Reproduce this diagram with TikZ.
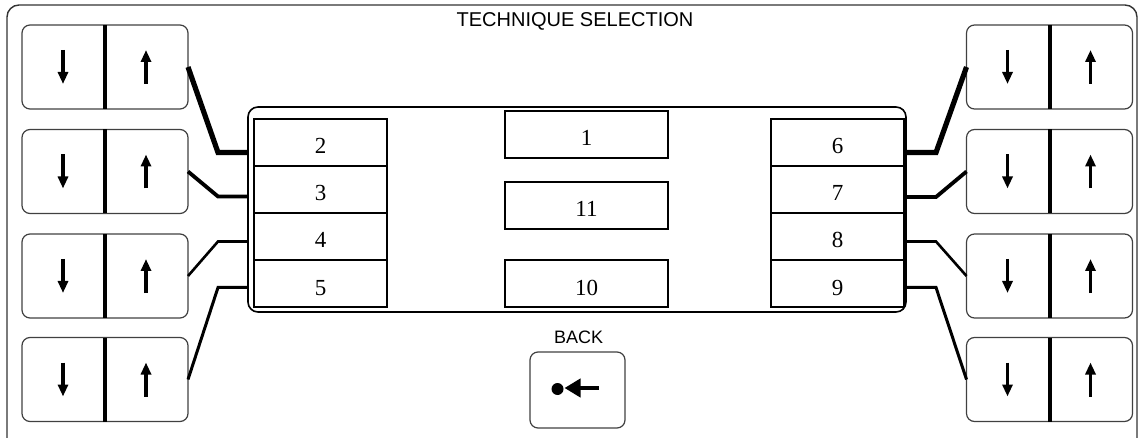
\documentclass[tikz,border=0pt]{standalone}
\usepackage{fontspec}
\setmainfont{Liberation Serif}
\setsansfont{Liberation Sans}
\usetikzlibrary{positioning, calc, arrows.meta}

\tikzstyle{Frame} = [draw=black!80, line width=0.7pt, rounded corners=6pt]
\tikzstyle{Panel} = [draw, line width=0.8pt, rounded corners=5pt,
    minimum width=329pt, minimum height=102.5pt, inner sep=0pt, outer sep=0pt]
\tikzstyle{Row} = [draw, line width=0.75pt, minimum width=66.5pt, minimum height=23.5pt,
    inner sep=0pt, outer sep=0pt, text height=11.5pt, text depth=0pt,
    font=\fontsize{11.5}{12}\selectfont]
\tikzstyle{Choice} = [Row, minimum width=81.5pt]
\tikzstyle{Key} = [black, line width=1.6pt, -{Triangle[width=5pt, length=6pt]}]
\tikzstyle{Rocker} = [draw=black!75, line width=0.6pt, rounded corners=4pt,
    minimum width=83pt, minimum height=42pt, inner sep=0pt, outer sep=0pt]
\tikzstyle{Link} = [line join=miter]
\tikzstyle{Caption} = [font=\sffamily\fontsize{9}{10}\selectfont, inner sep=0pt]

\begin{document}
\begin{tikzpicture}[x=0.5pt, y=-0.5pt]
    \useasboundingbox (0,0) rectangle (1140,438);
    \clip (0,0) rectangle (1140,438);
    \draw[Frame] (7,5) rectangle (1137,470);
    \node[Caption, font=\sffamily\fontsize{10}{11}\selectfont] (title) at (575,21) {TECHNIQUE SELECTION};

    % technique list
    \node[Panel] (panel) at (577,209.5) {};
    \node[Row] (2) at (320.5,142.5) {2};
    \node[Row, below=0pt of 2] (3) {3};
    \node[Row, below=0pt of 3] (4) {4};
    \node[Row, below=0pt of 4] (5) {5};
    \node[Row] (6) at (837.5,142.5) {6};
    \node[Row, below=0pt of 6] (7) {7};
    \node[Row, below=0pt of 7] (8) {8};
    \node[Row, below=0pt of 8] (9) {9};
    \node[Choice] (1) at (586.5,134.5) {1};
    \node[Choice] (11) at (586.5,205.5) {11};
    \node[Choice] (10) at (586.5,283.5) {10};

    % up/down keys
    \node[Rocker] (L1) at (105,67) {};
    \node[Rocker] (L2) at (105,171.5) {};
    \node[Rocker] (L3) at (105,276) {};
    \node[Rocker] (L4) at (105,379.5) {};
    \node[Rocker] (R1) at (1049.5,67) {};
    \node[Rocker] (R2) at (1049.5,171.5) {};
    \node[Rocker] (R3) at (1049.5,276) {};
    \node[Rocker] (R4) at (1049.5,379.5) {};
    \foreach \k in {L1,L2,L3,L4,R1,R2,R3,R4} {
        \draw[line width=2pt] (\k.north) -- (\k.south);
        \draw[Key] ($(\k.center)+(-42,-17)$) -- ++(0,34);
        \draw[Key] ($(\k.center)+(41,17)$) -- ++(0,-34);
    }

    \draw[Link, line width=2.6pt] (L1.east) -- ($(panel.west |- 2)+(-30,10)$) -- ($(panel.west |- 2)+(0,10)$);
    \draw[Link, line width=1.9pt] (L2.east) -- ($(panel.west |- 3)+(-30,7)$) -- ($(panel.west |- 3)+(0,7)$);
    \draw[Link, line width=1.3pt] (L3.east) -- ($(panel.west |- 4)+(-30,5)$) -- ($(panel.west |- 4)+(0,5)$);
    \draw[Link, line width=1.5pt] (L4.east) -- ($(panel.west |- 5)+(-30,4)$) -- ($(panel.west |- 5)+(0,4)$);
    \draw[Link, line width=2.6pt] ($(panel.east |- 6)+(0,10)$) -- ($(panel.east |- 6)+(30,10)$) -- (R1.west);
    \draw[Link, line width=1.9pt] ($(panel.east |- 7)+(0,7.5)$) -- ($(panel.east |- 7)+(30,7.5)$) -- (R2.west);
    \draw[Link, line width=1.3pt] ($(panel.east |- 8)+(0,5)$) -- ($(panel.east |- 8)+(30,5)$) -- (R3.west);
    \draw[Link, line width=1.5pt] ($(panel.east |- 9)+(0,4)$) -- ($(panel.east |- 9)+(30,4)$) -- (R4.west);

    % back key
    \node[Caption] (backlabel) at (578.5,337.5) {BACK};
    \node[draw=black!75, line width=0.6pt, rounded corners=4pt, minimum width=47.5pt,
        minimum height=38pt, inner sep=0pt, outer sep=0pt] (back) at (577.5,390) {};
    \fill ($(back.center)+(-20,-1)$) circle (3pt);
    \draw[line width=2.2pt, -{Triangle[width=9pt, length=8pt]}] ($(back.center)+(21,-2)$) -- ($(back.center)+(-13,-2)$);
\end{tikzpicture}
\end{document}
